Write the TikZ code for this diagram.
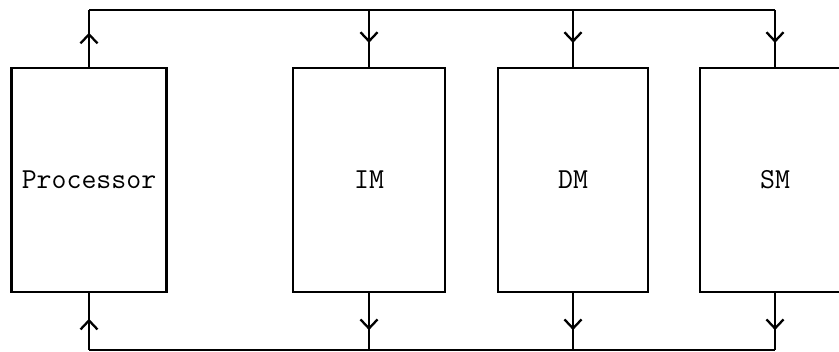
\documentclass[tikz,border=0pt]{standalone}
\usetikzlibrary{arrows.meta,decorations.markings}
\tikzset{
  wire/.style={line width=2.5pt},
  unitbox/.style={draw, line width=2.5pt, minimum height=224pt, inner sep=0pt,
    font=\fontsize{29}{35}\selectfont\ttfamily},
  midarrow/.style={postaction={decorate},
    decoration={markings, mark=at position #1 with {\arrow[line width=2.3pt]{Straight Barb[length=9pt,width=17pt]}}}}
}
\begin{document}
\begin{tikzpicture}[x=1pt,y=-1pt]
\clip (0,0) rectangle (839,352);
\fill[white] (0,0) rectangle (839,352);
% boxes
\node[unitbox, minimum width=155pt] (proc) at (89,180) {Processor};
\node[unitbox, minimum width=152pt] (im) at (369,180) {IM};
\node[unitbox, minimum width=150pt] (dm) at (573,180) {DM};
\node[unitbox, minimum width=150pt] (sm) at (775,180) {SM};
% bus points
\coordinate (ptop) at (89,10);
\coordinate (imtop) at (369,10);
\coordinate (dmtop) at (573,10);
\coordinate (smtop) at (775,10);
\coordinate (pbot) at (89,350);
\coordinate (imbot) at (369,350);
\coordinate (dmbot) at (573,350);
\coordinate (smbot) at (775,350);
% buses
\draw[wire] (ptop) -- (smtop);
\draw[wire] (pbot) -- (smbot);
% top connectors
\draw[wire, midarrow=0.6] (proc.north) -- (ptop);
\draw[wire, midarrow=0.58] (imtop) -- (im.north);
\draw[wire, midarrow=0.58] (dmtop) -- (dm.north);
\draw[wire, midarrow=0.58] (smtop) -- (sm.north);
% bottom connectors
\draw[wire, midarrow=0.55] (pbot) -- (proc.south);
\draw[wire, midarrow=0.65] (im.south) -- (imbot);
\draw[wire, midarrow=0.65] (dm.south) -- (dmbot);
\draw[wire, midarrow=0.65] (sm.south) -- (smbot);
\end{tikzpicture}
\end{document}
